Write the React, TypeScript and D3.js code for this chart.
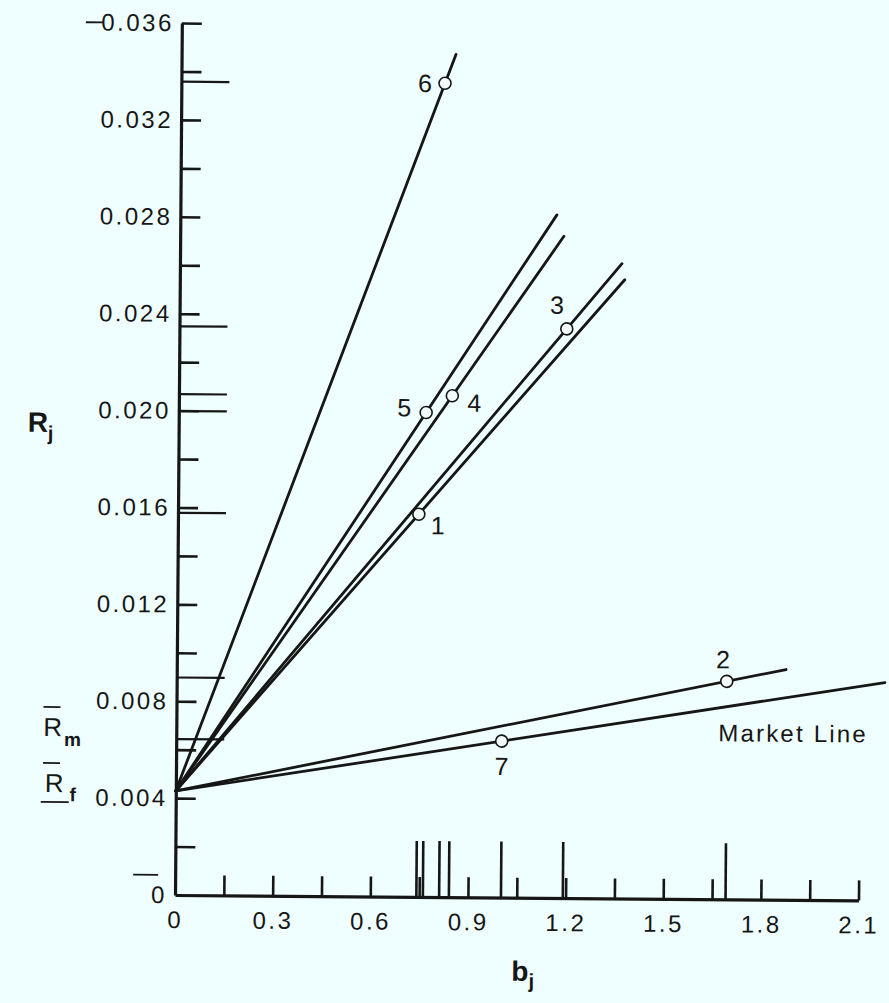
import React, { useEffect, useRef } from 'react';
import * as d3 from 'd3';

// characteristic lines of seven portfolios vs. beta
const portfolios = ['1', '2', '3', '4', '5', '6', '7'];
const betas = [0.74, 1.69, 1.19, 0.84, 0.76, 0.81, 1.0];
const returns = [0.0158, 0.009, 0.0235, 0.0207, 0.02, 0.0336, 0.00646];
const lineEnds = [1.367, 1.872, 1.358, 1.179, 1.157, 0.843, null];

const riskFree = 0.0043;
const marketReturn = 0.00646;
const marketLineEnd = 2.176;

const yMinorTicks = [0.002, 0.004, 0.006, 0.008, 0.01, 0.012, 0.014, 0.016, 0.018, 0.02, 0.022, 0.024, 0.026, 0.028, 0.03, 0.032, 0.034, 0.036];
const yTickLabels = [0, 0.004, 0.008, 0.012, 0.016, 0.02, 0.024, 0.028, 0.032, 0.036];
const xMinorTicks = [0.15, 0.3, 0.45, 0.6, 0.75, 0.9, 1.05, 1.2, 1.35, 1.5, 1.65, 1.8, 1.95, 2.1];
const xTickLabels = [0, 0.3, 0.6, 0.9, 1.2, 1.5, 1.8, 2.1];

// label placement around each point (px)
const labelOffsets = [[19, 11], [-4, -22], [-10, -24], [22, 7], [-22, -5], [-20, 0], [0, 25]];

const FONT = '"Liberation Sans", Arial, Helvetica, sans-serif';
const INK = '#161616';

const App = () => {
  const svgRef = useRef(null);

  useEffect(() => {
    const width = 889;
    const height = 1003;

    const x = d3.scaleLinear().domain([0, 2.1]).range([175, 858.5]);
    const y = d3.scaleLinear().domain([0, 0.036]).range([895, 23]);

    const svg = d3.select(svgRef.current)
      .attr('width', width)
      .attr('height', height)
      .attr('viewBox', [0, 0, width, height]);
    svg.selectAll('*').remove();

    svg.append('rect').attr('width', width).attr('height', height).attr('fill', '#effefe');

    // the scan is tilted a little
    const g = svg.append('g')
      .attr('transform', `rotate(0.45, ${x(0)}, ${y(0)})`)
      .attr('color', INK);

    const styleAxis = (sel, w = 2.5) => {
      sel.selectAll('line').attr('stroke-width', w);
      sel.selectAll('text')
        .attr('font-family', FONT)
        .attr('font-size', 24)
        .attr('letter-spacing', 2.5)
        .attr('fill', INK);
    };

    // y axis: minor ticks inside, long ticks at portfolio returns
    g.append('g')
      .attr('transform', `translate(${x(0)},0)`)
      .call(d3.axisRight(y).tickValues(returns).tickSize(48).tickFormat(() => ''))
      .call(s => s.select('.domain').remove())
      .call(s => styleAxis(s, 2.2));

    g.append('g')
      .attr('transform', `translate(${x(0)},0)`)
      .call(d3.axisRight(y).tickValues(yMinorTicks).tickSize(20).tickSizeOuter(0).tickFormat(() => ''))
      .call(s => s.select('.domain').attr('stroke-width', 3.2))
      .call(s => styleAxis(s, 2.6));

    g.append('g')
      .attr('transform', `translate(${x(0)},0)`)
      .call(d3.axisLeft(y).tickValues(yTickLabels).tickSize(0).tickPadding(8)
        .tickFormat(d => (d === 0 ? '0' : d3.format('.3f')(d))))
      .call(s => s.select('.domain').remove())
      .call(s => styleAxis(s));

    // x axis: minor ticks, tall ticks at portfolio betas
    g.append('g')
      .attr('transform', `translate(0,${y(0)})`)
      .call(d3.axisTop(x).tickValues(betas).tickSize(56).tickFormat(() => ''))
      .call(s => s.select('.domain').remove())
      .call(s => styleAxis(s, 2.6));

    g.append('g')
      .attr('transform', `translate(0,${y(0)})`)
      .call(d3.axisTop(x).tickValues(xMinorTicks).tickSize(20).tickSizeOuter(0).tickFormat(() => ''))
      .call(s => s.select('.domain').attr('stroke-width', 3.2))
      .call(s => styleAxis(s, 2.6));

    g.append('g')
      .attr('transform', `translate(0,${y(0)})`)
      .call(d3.axisBottom(x).tickValues(xTickLabels).tickSize(0).tickPadding(16)
        .tickFormat(d => (d === 0 ? '0' : d3.format('.1f')(d))))
      .call(s => s.select('.domain').remove())
      .call(s => styleAxis(s));

    // lines from the risk-free rate through each portfolio
    const line = d3.line().x(d => x(d[0])).y(d => y(d[1]));
    const lines = portfolios
      .map((p, i) => {
        if (lineEnds[i] === null) return null;
        const slope = (returns[i] - riskFree) / betas[i];
        return [[0, riskFree], [lineEnds[i], riskFree + slope * lineEnds[i]]];
      })
      .filter(Boolean);
    const mSlope = (marketReturn - riskFree) / 1;
    lines.push([[0, riskFree], [marketLineEnd, riskFree + mSlope * marketLineEnd]]);

    g.append('g')
      .selectAll('path')
      .data(lines)
      .join('path')
      .attr('d', line)
      .attr('fill', 'none')
      .attr('stroke', INK)
      .attr('stroke-width', 2.8)
      .attr('stroke-linecap', 'round');

    // points
    g.append('g')
      .selectAll('circle')
      .data(portfolios)
      .join('circle')
      .attr('cx', (d, i) => x(betas[i]))
      .attr('cy', (d, i) => y(returns[i]))
      .attr('r', 6)
      .attr('fill', '#f4fbfb')
      .attr('stroke', INK)
      .attr('stroke-width', 1.6);

    g.append('g')
      .selectAll('text')
      .data(portfolios)
      .join('text')
      .attr('x', (d, i) => x(betas[i]) + labelOffsets[i][0])
      .attr('y', (d, i) => y(returns[i]) + labelOffsets[i][1])
      .attr('text-anchor', 'middle')
      .attr('dominant-baseline', 'central')
      .attr('font-family', FONT)
      .attr('font-size', 25)
      .attr('fill', INK)
      .text(d => d);

    g.append('text')
      .attr('x', 717)
      .attr('y', 737)
      .attr('font-family', FONT)
      .attr('font-size', 24)
      .attr('letter-spacing', 2.2)
      .attr('fill', INK)
      .text('Market Line');

    // axis titles
    const rj = g.append('text').attr('x', 24).attr('y', 433)
      .attr('font-family', FONT).attr('fill', INK);
    rj.append('tspan').attr('font-size', 28).attr('font-weight', 'bold').text('R');
    rj.append('tspan').attr('font-size', 20).attr('font-weight', 'bold').attr('dy', 8).text('j');

    const bj = g.append('text').attr('x', 512).attr('y', 978)
      .attr('font-family', FONT).attr('fill', INK);
    bj.append('tspan').attr('font-size', 28).attr('font-weight', 'bold').text('b');
    bj.append('tspan').attr('font-size', 20).attr('font-weight', 'bold').attr('dy', 7).text('j');

    const rm = g.append('text').attr('x', 42).attr('y', 737)
      .attr('font-family', FONT).attr('fill', INK);
    rm.append('tspan').attr('font-size', 26).text('R');
    rm.append('tspan').attr('font-size', 19).attr('font-weight', 'bold').attr('dy', 10).attr('dx', 2).text('m');

    const rf = g.append('text').attr('x', 44).attr('y', 793)
      .attr('font-family', FONT).attr('fill', INK);
    rf.append('tspan').attr('font-size', 26).text('R');
    rf.append('tspan').attr('font-size', 19).attr('font-weight', 'bold').attr('dy', 9).attr('dx', 6).text('f');

    const marks = [[42, 708, 59, 708], [42, 764, 59, 764], [40, 803, 68, 803], [133, 875, 158, 875], [79, 23, 96, 23]];
    g.append('g')
      .selectAll('line')
      .data(marks)
      .join('line')
      .attr('x1', d => d[0]).attr('y1', d => d[1])
      .attr('x2', d => d[2]).attr('y2', d => d[3])
      .attr('stroke', INK)
      .attr('stroke-width', 1.8);
  }, []);

  return (
    <svg ref={svgRef} style={{ position: 'absolute', left: 0, top: 0, display: 'block' }}></svg>
  );
};

export default App;
